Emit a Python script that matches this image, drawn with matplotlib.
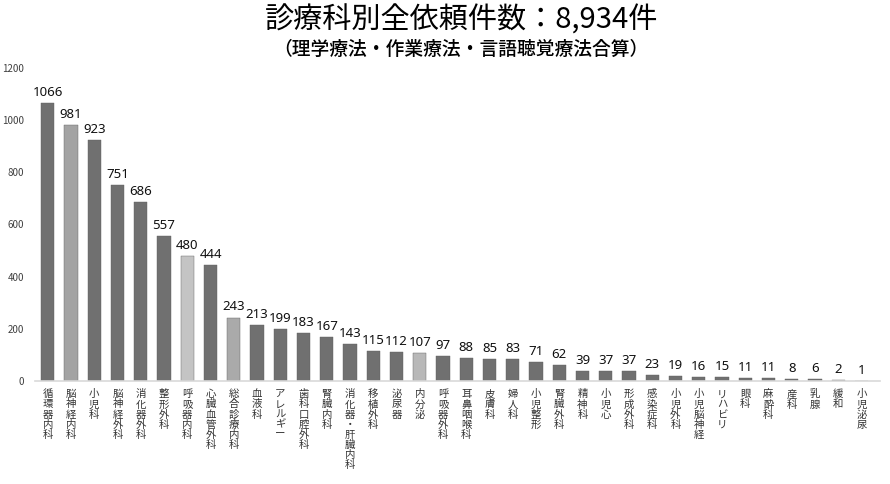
import matplotlib
matplotlib.use("Agg")
from matplotlib import pyplot as plt

plt.rcParams['font.family'] = ['Noto Sans CJK JP', 'DejaVu Sans']

# 診療科と依頼件数
depts = ['循環器内科', '脳神経内科', '小児科', '脳神経外科', '消化器外科', '整形外科',
         '呼吸器内科', '心臓血管外科', '総合診療内科', '血液科', 'アレルギー', '歯科口腔外科',
         '腎臓内科', '消化器・肝臓内科', '移植外科', '泌尿器', '内分泌', '呼吸器外科',
         '耳鼻咽喉科', '皮膚科', '婦人科', '小児整形', '腎臓外科', '精神科', '小児心',
         '形成外科', '感染症科', '小児外科', '小児脳神経', 'リハビリ', '眼科', '麻酔科',
         '産科', '乳腺', '緩和', '小児泌尿']
counts = [1066, 981, 923, 751, 686, 557, 480, 444, 243, 213, 199, 183, 167, 143,
          115, 112, 107, 97, 88, 85, 83, 71, 62, 39, 37, 37, 23, 19, 16, 15, 11, 11,
          8, 6, 2, 1]
# 色の違う棒
light = {'脳神経内科': '#a3a3a3', '呼吸器内科': '#c4c4c4',
         '総合診療内科': '#aaaaaa', '内分泌': '#b8b8b8'}
colors = [light.get(d, '#707070') for d in depts]

fig = plt.figure(figsize=(8.9, 4.84), dpi=100)
ax = fig.add_axes([35 / 890, 103 / 484, 845 / 890, 313 / 484])

x = range(len(depts))
bars = ax.bar(x, counts, width=0.57, color=colors, edgecolor='#606060', linewidth=0.3)

for xi, c in zip(x, counts):
    ax.annotate(str(c), xy=(xi, c), xytext=(0, 3), textcoords='offset points',
                ha='center', va='bottom', fontsize=9.5, fontweight='semibold',
                family=['Noto Sans', 'DejaVu Sans'], color='#111111')

ax.set_xlim(-0.55, len(depts) - 0.2)
ax.set_ylim(0, 1200)
ax.set_yticks(range(0, 1201, 200))
ax.tick_params(axis='y', length=0, labelsize=7, labelcolor='#404040', pad=8)
ax.set_xticks(list(x))
ax.set_xticklabels(['\n'.join(d) for d in depts], fontsize=7.5, color='#333333',
                   linespacing=1.02, va='top')
ax.tick_params(axis='x', length=0, pad=6)

for s in ['top', 'right', 'left']:
    ax.spines[s].set_visible(False)
ax.spines['bottom'].set_color('#d9d9d9')
ax.spines['bottom'].set_linewidth(1.2)

fig.text(0.519, 0.958, '診療科別全依頼件数：8,934件', ha='center', va='center',
         fontsize=21)
fig.text(0.518, 0.897, '（理学療法・作業療法・言語聴覚療法合算）', ha='center',
         va='center', fontsize=13.5, fontweight='medium')

fig.savefig('out.png', dpi=100)
